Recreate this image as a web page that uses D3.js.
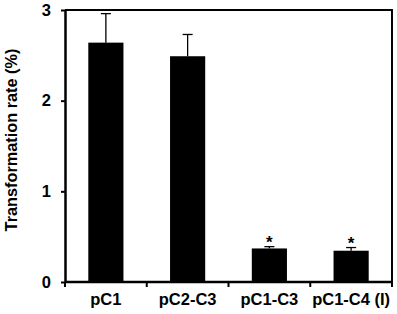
<!DOCTYPE html>
<html>
<head>
<meta charset="utf-8">
<script src="https://cdn.jsdelivr.net/npm/d3@7"></script>
<style>
  body { margin: 0; background: #fff; }
  svg { display: block; font-family: 'Liberation Sans', Arial, sans-serif; font-weight: bold; }
  .axis path, .axis line { stroke: #000; }
</style>
</head>
<body>
<svg id="chart" width="397" height="314"></svg>
<script>
const categories = ['pC1', 'pC2-C3', 'pC1-C3', 'pC1-C4 (I)']
const rates = [2.64, 2.49, 0.37, 0.345]
const errors = [0.32, 0.24, 0.02, 0.035]
const significant = [false, false, true, true]
const yTicks = [0, 1, 2, 3]

const margin = { top: 10, left: 65, bottom: 32, right: 5 }
const svg = d3.select('#chart')
const width = +svg.attr('width') - margin.left - margin.right
const height = +svg.attr('height') - margin.top - margin.bottom

const x = d3.scaleBand().domain(categories).range([0, width]).paddingInner(0.57).paddingOuter(0.285)
const y = d3.scaleLinear().domain([0, 3]).range([height, 0])

const g = svg.append('g').attr('transform', `translate(${margin.left},${margin.top})`)

// frame on top and right
g.append('path')
  .attr('d', `M0,0H${width}V${height}`)
  .attr('fill', 'none').attr('stroke', '#000').attr('stroke-width', 2)

g.selectAll('.bar').data(categories).join('rect')
  .attr('class', 'bar')
  .attr('x', d => x(d))
  .attr('width', x.bandwidth())
  .attr('y', (d, i) => y(rates[i]))
  .attr('height', (d, i) => height - y(rates[i]))
  .attr('fill', '#000')

const cap = 5
const err = g.selectAll('.err').data(categories).join('g').attr('class', 'err')
  .attr('transform', d => `translate(${x(d) + x.bandwidth() / 2},0)`)
err.append('line')
  .attr('y1', (d, i) => y(rates[i])).attr('y2', (d, i) => y(rates[i] + errors[i]))
  .attr('stroke', '#000').attr('stroke-width', 1.3)
err.append('line')
  .attr('x1', -cap).attr('x2', cap)
  .attr('y1', (d, i) => y(rates[i] + errors[i])).attr('y2', (d, i) => y(rates[i] + errors[i]))
  .attr('stroke', '#000').attr('stroke-width', 1.3)

g.selectAll('.star').data(categories.filter((d, i) => significant[i])).join('text')
  .attr('class', 'star')
  .attr('x', d => x(d) + x.bandwidth() / 2)
  .attr('y', d => y(rates[categories.indexOf(d)] + errors[categories.indexOf(d)]) + 1)
  .attr('text-anchor', 'middle')
  .attr('font-size', 17)
  .text('*')

const yAxis = g.append('g').attr('class', 'axis')
  .call(d3.axisLeft(y).tickValues(yTicks).tickFormat(d3.format('d')).tickSize(4).tickPadding(10).tickSizeOuter(0))
yAxis.select('.domain').attr('stroke-width', 2.5)
yAxis.selectAll('.tick line').attr('stroke-width', 2)
yAxis.selectAll('text').attr('font-size', 16.5).attr('font-family', null).attr('font-weight', 'bold').attr('fill', '#000')

// x axis: ticks between categories
const bounds = d3.range(categories.length + 1).map(i => i * x.step())
const xAxis = g.append('g').attr('class', 'axis').attr('transform', `translate(0,${height})`)
xAxis.append('line').attr('x1', 0).attr('x2', width).attr('stroke', '#000').attr('stroke-width', 2.5)
xAxis.selectAll('.btick').data(bounds).join('line')
  .attr('x1', d => d).attr('x2', d => d).attr('y1', 0).attr('y2', 5)
  .attr('stroke', '#000').attr('stroke-width', 2)
xAxis.selectAll('.lbl').data(categories).join('text')
  .attr('x', d => x(d) + x.bandwidth() / 2)
  .attr('y', 23)
  .attr('text-anchor', 'middle')
  .attr('font-size', 16.5)
  .text(d => d)

svg.append('text')
  .attr('transform', `translate(17,140) rotate(-90)`)
  .attr('text-anchor', 'middle')
  .attr('font-size', 16.3)
  .text('Transformation rate (%)')
</script>
</body>
</html>
